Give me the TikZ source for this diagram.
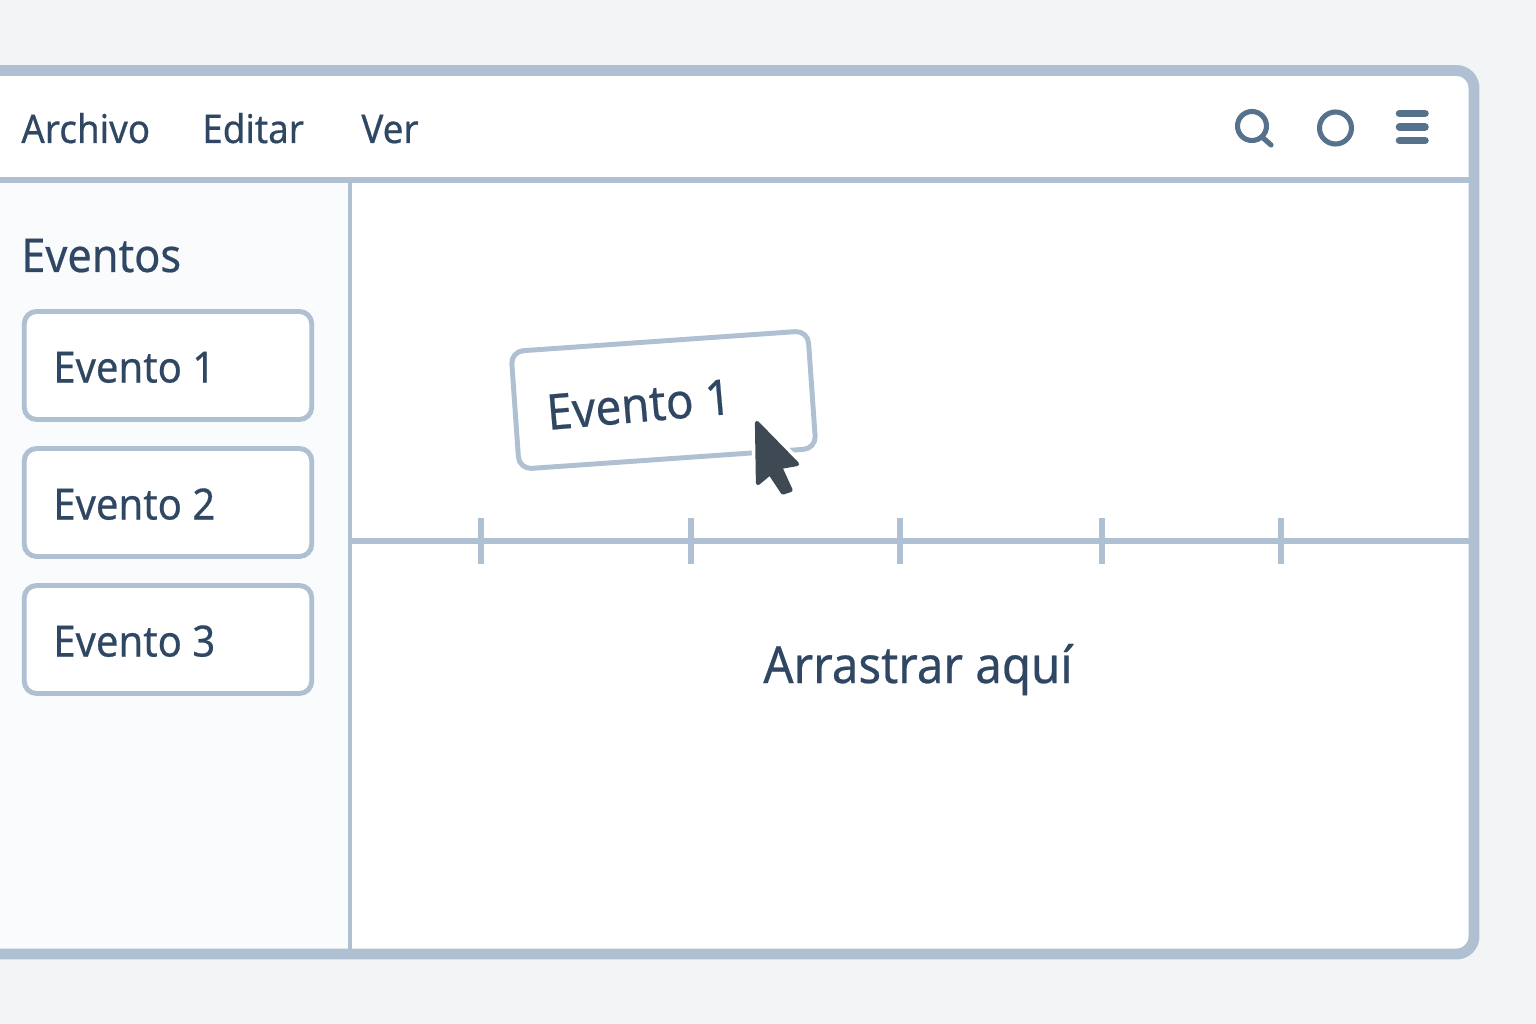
\documentclass[tikz,border=0pt]{standalone}
\usepackage{fontspec}
\newfontfamily\uifont[FakeStretch=0.93,FakeBold=0.45]{Noto Sans}
\definecolor{pagebg}{HTML}{F3F4F6}
\definecolor{framecol}{HTML}{AEC0D1}
\definecolor{sidecol}{HTML}{F9FBFD}
\definecolor{inkcol}{HTML}{2F4763}
\definecolor{iconcol}{HTML}{56718C}
\definecolor{cursorcol}{HTML}{3E4954}
\tikzset{
  uitext/.style={inner sep=0pt, anchor=base west, text=inkcol, font=\uifont},
  eventbox/.style={draw=framecol, line width=2.8pt, fill=white, rounded corners=7pt,
    minimum width=5.75cm, minimum height=2.16cm, inner sep=0pt},
  iconline/.style={draw=iconcol, line width=2.9pt},
  hambar/.style={draw=iconcol, line width=4.3pt, line cap=round}
}
\begin{document}
\begin{tikzpicture}[x=0.02cm, y=-0.02cm]

  % Page size in reference pixels
  \def\pw{1536}
  \def\ph{1024}
  \def\headY{180}   % Header rule
  \def\sideX{350}   % Sidebar rule
  \def\lineY{541}   % Timeline

  \useasboundingbox (0,0) rectangle (\pw,\ph);
  \clip (0,0) rectangle (\pw,\ph);
  \fill[pagebg] (0,0) rectangle (\pw,\ph);

  % Window body and sidebar
  \fill[white, rounded corners=10pt] (-30,70) rectangle (1474,954);
  \fill[sidecol] (-30,\headY) rectangle (\sideX,954);

  % Rules
  \draw[framecol, line width=2.9pt] (0,\headY) -- (1474,\headY);
  \draw[framecol, line width=2.6pt] (\sideX,\headY) -- (\sideX,954);
  \draw[framecol, line width=2.9pt] (\sideX,\lineY) -- (1474,\lineY);

  % Timeline ticks
  \foreach \x in {481,691,900,1102,1281}
    \draw[framecol, line width=2.9pt] (\x,518) -- (\x,564);

  % Window frame
  \draw[framecol, line width=6.2pt, rounded corners=10pt] (-30,70.5) rectangle (1474,954);

  % Menu
  \node[uitext, font=\uifont\fontsize{22.5pt}{24pt}\selectfont] (archivo) at (21,143) {Archivo};
  \node[uitext, font=\uifont\fontsize{22.5pt}{24pt}\selectfont] (editar) at (202,143) {Editar};
  \node[uitext, font=\uifont\fontsize{22.5pt}{24pt}\selectfont] (ver) at (361,143) {Ver};

  % Header icons
  \draw[iconline] (1252,126) circle (14.5);
  \draw[iconline, line cap=round] (1262,137) -- (1271,145);
  \draw[iconline] (1335.5,128) circle (16);
  \foreach \y in {113.5,127,140.5}
    \draw[hambar] (1399.5,\y) -- (1425,\y);

  % Sidebar
  \node[uitext, font=\uifont\fontsize{26.5pt}{28pt}\selectfont] (eventos) at (21,272) {Eventos};
  \foreach \n/\y in {1/365.5,2/502.5,3/639.5} {
    \node[eventbox] (box\n) at (168,\y) {};
    \node[uitext, font=\uifont\fontsize{24.5pt}{26pt}\selectfont] (label\n) at (53,\y+17) {Evento \n};
  }

  % Dragged card
  \node[eventbox, minimum width=5.95cm, minimum height=2.36cm, rotate=4] (dragcard) at (663.5,400) {};
  \node[uitext, rotate=5, font=\uifont\fontsize{28pt}{30pt}\selectfont] (draglabel) at (548,430) {Evento 1};

  % Cursor
  \draw[white, line width=6.5pt, line join=round, fill=white]
    (757,423) -- (797,464) -- (780,467) -- (790.5,490) -- (783,492.5)
    -- (770,473) -- (758,483) -- cycle;
  \draw[cursorcol, line width=2.4pt, line join=round, fill=cursorcol]
    (757,423) -- (797,464) -- (780,467) -- (790.5,490) -- (783,492.5)
    -- (770,473) -- (758,483) -- cycle;

  % Drop label
  \node[uitext, font=\uifont\fontsize{29pt}{31pt}\selectfont] (drophint) at (763,683) {Arrastrar aquí};

\end{tikzpicture}
\end{document}
